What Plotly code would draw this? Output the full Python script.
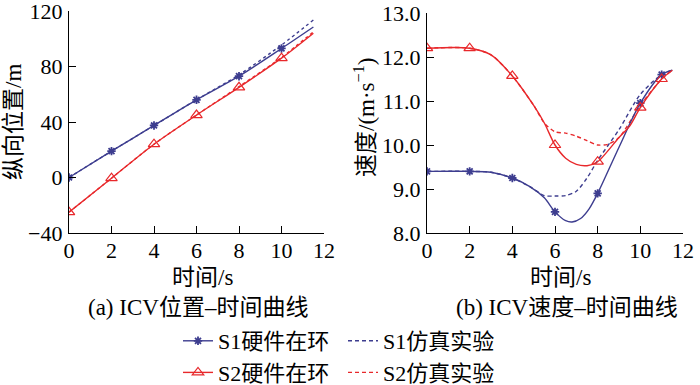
import plotly.graph_objects as go

# ---------------- data ----------------
# (a) position vs time
t_pos = [0, 2, 4, 6, 8, 10, 11.5]
s1_hil_pos = [0, 19, 37.5, 56, 73, 93, 108.5]
s1_sim_pos = [0, 19, 37.5, 56, 74, 95.5, 113.5]
s2_hil_pos = [-25, -0.5, 24, 45, 65, 86, 104]
s2_sim_pos = [-25, -0.5, 24, 45, 65.5, 86.5, 105]
pos_marker_t = [0, 2, 4, 6, 8, 10]

# (b) velocity vs time
t_s1_hil = [0, 2, 3, 4, 4.8, 5.5, 6, 6.5, 6.8, 7.2, 7.6, 8, 9, 10, 11, 11.5]
s1_hil_v = [9.4, 9.4, 9.38, 9.25, 9.06, 8.8, 8.48, 8.28, 8.25, 8.33, 8.55, 8.9, 9.95, 10.95, 11.6, 11.7]
t_s1_sim = [0, 2, 3, 4, 4.8, 5.5, 6, 6.5, 7, 7.5, 8, 9, 10, 11, 11.5]
s1_sim_v = [9.4, 9.4, 9.38, 9.25, 9.06, 8.85, 8.84, 8.85, 8.95, 9.25, 9.65, 10.35, 11.15, 11.6, 11.7]
t_s2_hil = [0, 2, 3, 4, 5, 5.5, 6, 6.5, 7, 7.5, 8, 9, 9.5, 10, 11, 11.5]
s2_hil_v = [12.2, 12.2, 12.05, 11.57, 10.9, 10.5, 10.0, 9.7, 9.56, 9.53, 9.62, 10.17, 10.43, 10.85, 11.5, 11.7]
t_s2_sim = [0, 2, 3, 4, 5, 5.5, 6, 6.5, 7, 7.5, 8, 8.5, 9, 10, 11, 11.5]
s2_sim_v = [12.2, 12.2, 12.05, 11.57, 10.9, 10.5, 10.3, 10.27, 10.2, 10.1, 10.0, 10.02, 10.17, 10.9, 11.5, 11.7]
vel_marker_t = [0, 2, 4, 6, 8, 10, 11]

x_ticks = [0, 2, 4, 6, 8, 10, 12]
pos_ticks = [-40, 0, 40, 80, 120]
vel_ticks = [8.0, 9.0, 10.0, 11.0, 12.0, 13.0]

names = ["S1硬件在环", "S1仿真实验", "S2硬件在环", "S2仿真实验"]
captions = ["(a) ICV位置–时间曲线", "(b) ICV速度–时间曲线"]
x_title = "时间/s"
y_titles = ["纵向位置/m", "速度/(m·s<sup>−1</sup>)"]

# ---------------- style ----------------
BLUE = "#3d3d8f"
RED = "#e8282b"
FONT = "Liberation Serif, Noto Sans CJK SC, serif"
W, H = 700, 385

def px_x(p):
    return p / W

def px_y(p):
    return 1 - p / H

def pick(ts, vs, sel):
    return [v for t, v in zip(ts, vs) if t in sel]

fig = go.Figure()

def add_series(t, v, color, dash, xa, ya, marker_t=None, symbol=None, msize=7, mline=1.5):
    fig.add_trace(go.Scatter(x=t, y=v, mode="lines", xaxis=xa, yaxis=ya,
                             line=dict(color=color, width=1.4, dash=dash, shape="spline", smoothing=0.8),
                             showlegend=False, hoverinfo="skip"))
    if marker_t is not None:
        fig.add_trace(go.Scatter(x=[t_ for t_ in t if t_ in marker_t], y=pick(t, v, marker_t),
                                 mode="markers", xaxis=xa, yaxis=ya,
                                 marker=dict(symbol=symbol, size=msize, color=color,
                                             line=dict(color=color, width=mline)),
                                 showlegend=False, hoverinfo="skip"))

# left subplot
add_series(t_pos, s1_sim_pos, BLUE, "3px,3px", "x", "y")
add_series(t_pos, s2_sim_pos, RED, "3px,3px", "x", "y")
add_series(t_pos, s1_hil_pos, BLUE, "solid", "x", "y", pos_marker_t, "asterisk-open", 7, 1.8)
add_series(t_pos, s2_hil_pos, RED, "solid", "x", "y", pos_marker_t, "triangle-up-open", 10, 1.2)

# right subplot
add_series(t_s1_sim, s1_sim_v, BLUE, "4px,3px", "x2", "y2")
add_series(t_s2_sim, s2_sim_v, RED, "4px,3px", "x2", "y2")
add_series(t_s1_hil, s1_hil_v, BLUE, "solid", "x2", "y2", vel_marker_t, "asterisk-open", 7, 1.8)
add_series(t_s2_hil, s2_hil_v, RED, "solid", "x2", "y2", vel_marker_t, "triangle-up-open", 10, 1.2)

# legend traces
fig.add_trace(go.Scatter(x=[None], y=[None], mode="lines+markers", name=names[0],
                         line=dict(color=BLUE, width=1.4),
                         marker=dict(symbol="asterisk-open", size=7, color=BLUE, line=dict(color=BLUE, width=1.8)),
                         legend="legend"))
fig.add_trace(go.Scatter(x=[None], y=[None], mode="lines+markers", name=names[2],
                         line=dict(color=RED, width=1.4),
                         marker=dict(symbol="triangle-up-open", size=10, color=RED, line=dict(color=RED, width=1.2)),
                         legend="legend"))
fig.add_trace(go.Scatter(x=[None], y=[None], mode="lines", name=names[1],
                         line=dict(color=BLUE, width=1.4, dash="4px,3px"), legend="legend2"))
fig.add_trace(go.Scatter(x=[None], y=[None], mode="lines", name=names[3],
                         line=dict(color=RED, width=1.4, dash="4px,3px"), legend="legend2"))

axis_common = dict(showline=True, linecolor="black", linewidth=1.3, ticks="inside",
                   ticklen=7, tickwidth=1.3, tickcolor="black", showgrid=False, zeroline=False,
                   tickfont=dict(family=FONT, size=22, color="black"), mirror=False, automargin=False,
                   ticklabeloverflow="allow")

fig.update_layout(
    width=W, height=H, margin=dict(l=0, r=0, t=0, b=0, autoexpand=False),
    paper_bgcolor="white", plot_bgcolor="white",
    font=dict(family=FONT, color="black", size=20),
    xaxis=dict(domain=[px_x(69), px_x(324)], range=[0, 12], tickvals=x_ticks, anchor="y",
               ticklabelstandoff=-3, **axis_common),
    yaxis=dict(domain=[px_y(233), px_y(11)], range=[-40, 120], tickvals=pos_ticks, anchor="x",
               ticklabelstandoff=1, **axis_common),
    xaxis2=dict(domain=[px_x(427), px_x(683)], range=[0, 12], tickvals=x_ticks, anchor="y2",
                ticklabelstandoff=-3, **axis_common),
    yaxis2=dict(domain=[px_y(233), px_y(13)], range=[8, 13], tickvals=vel_ticks, tickformat=".1f",
                anchor="x2", ticklabelstandoff=1, **axis_common),
    legend=dict(x=px_x(178), y=px_y(320), xanchor="left", yanchor="top",
                font=dict(family=FONT, size=22), tracegroupgap=0, itemwidth=30, bgcolor="rgba(0,0,0,0)"),
    legend2=dict(x=px_x(343), y=px_y(320), xanchor="left", yanchor="top",
                 font=dict(family=FONT, size=22), tracegroupgap=0, itemwidth=30, bgcolor="rgba(0,0,0,0)"),
    showlegend=True,
)

ann = []
ann.append(dict(x=px_x(202), y=px_y(277), text=x_title, size=23))
ann.append(dict(x=px_x(560), y=px_y(277), text=x_title, size=23))
ann.append(dict(x=px_x(198), y=px_y(307), text=captions[0], size=23))
ann.append(dict(x=px_x(567), y=px_y(307), text=captions[1], size=23))
for a in ann:
    size = a.pop("size")
    fig.add_annotation(xref="paper", yref="paper", showarrow=False, xanchor="center", yanchor="middle",
                       font=dict(family=FONT, size=size, color="black"), **a)
fig.add_annotation(xref="paper", yref="paper", x=px_x(13), y=px_y(122), text=y_titles[0], textangle=-90,
                   showarrow=False, xanchor="center", yanchor="middle",
                   font=dict(family=FONT, size=23, color="black"))
fig.add_annotation(xref="paper", yref="paper", x=px_x(364), y=px_y(118), text=y_titles[1], textangle=-90,
                   showarrow=False, xanchor="center", yanchor="middle",
                   font=dict(family=FONT, size=23, color="black"))

fig.write_html("out.html", config={"displayModeBar": False},
               post_script="document.body.style.margin='0';document.body.style.overflow='hidden';")
